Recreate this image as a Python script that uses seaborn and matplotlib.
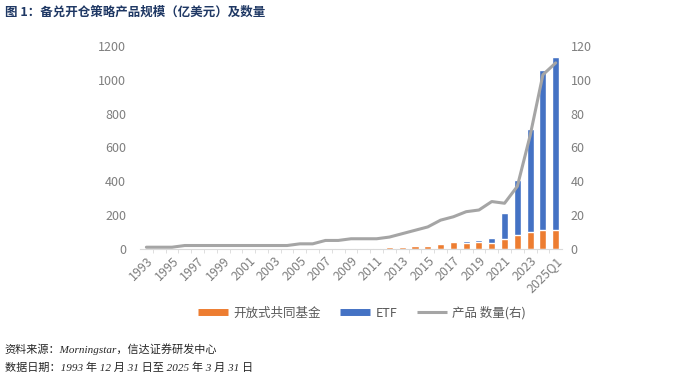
import numpy as np
import pandas as pd
import matplotlib
matplotlib.use('Agg')
import matplotlib.pyplot as plt
import seaborn as sns
from matplotlib.lines import Line2D

# Data.
years = [str(y) for y in range(1993, 2025)] + ['2025Q1']
fund = [0, 0, 0, 0, 0, 0, 0, 0, 0, 0, 0, 0, 0, 0,
        1, 2, 2, 3, 6, 10, 12, 16, 18, 29, 40, 36, 39, 34,
        59, 80, 100, 112, 112]
etf = [0, 0, 0, 0, 0, 0, 0, 0, 0, 0, 0, 0, 0, 0,
       1, 1, 2, 2, 2, 5, 5, 6, 5, 4, 6, 8, 15, 29,
       155, 325, 610, 948, 1020]
count = [1, 1, 1, 2, 2, 2, 2, 2, 2, 2, 2, 2, 3, 3,
         5, 5, 6, 6, 6, 7, 9, 11, 13, 17, 19, 22, 23, 28,
         27, 37, 67, 103, 110]

ORANGE = '#ED7D31'
BLUE = '#4472C4'
GREY = '#A5A5A5'
TICK_GREY = '#7F7F7F'

sns.set_style('white')
plt.rcParams['font.family'] = ['Noto Sans CJK SC', 'DejaVu Sans']

df = pd.DataFrame({'year': years, 'fund': fund, 'etf': etf, 'count': count})
df['total'] = df['fund'] + df['etf']

fig = plt.figure(figsize=(7, 3.8), dpi=100)
ax = fig.add_axes([0.2, 0.345, 0.603, 0.534])

# Stacked bars: draw totals in blue, then the fund part in orange on top.
sns.barplot(data=df, x='year', y='total', color=BLUE, width=0.55,
            saturation=1, ax=ax)
sns.barplot(data=df, x='year', y='fund', color=ORANGE, width=0.55,
            saturation=1, ax=ax)

ax.set_ylim(0, 1200)
ax.set_yticks(range(0, 1201, 200))
ax.set_xlim(-0.5, len(years) - 0.5)
ax.set_xlabel('')
ax.set_ylabel('')

# Right axis: number of products.
ax2 = ax.twinx()
sns.lineplot(x=np.arange(len(years)), y=df['count'], color=GREY, lw=2.2,
             ax=ax2)
ax2.set_ylim(0, 120)
ax2.set_yticks(range(0, 121, 20))
ax2.set_ylabel('')

# X ticks: every other label, rotated like the Excel original.
pos = np.arange(len(years))
ax.set_xticks(pos)
labels = [y if i % 2 == 0 else '' for i, y in enumerate(years)]
ax.set_xticklabels(labels, rotation=45, ha='right', rotation_mode='anchor',
                   fontsize=9, color=TICK_GREY)
ax.tick_params(axis='x', which='major', length=0, pad=4)
ax.set_xticks(pos[:-1] + 0.5, minor=True)
ax.tick_params(axis='x', which='minor', length=3, color='#D9D9D9', direction='out',
               bottom=True)

for a in (ax, ax2):
    for s in a.spines.values():
        s.set_visible(False)
ax.spines['bottom'].set_visible(True)
ax.spines['bottom'].set_color('#D9D9D9')

ax.tick_params(axis='y', length=0, labelsize=9, labelcolor=TICK_GREY, pad=10)
ax2.tick_params(axis='y', length=0, labelsize=9, labelcolor=TICK_GREY, pad=6)

# Legend.
handles = [
    Line2D([0], [0], color=ORANGE, lw=5, solid_capstyle='butt', label='开放式共同基金'),
    Line2D([0], [0], color=BLUE, lw=5, solid_capstyle='butt', label='ETF'),
    Line2D([0], [0], color=GREY, lw=2.2, solid_capstyle='butt', label='产品 数量(右)'),
]
leg = fig.legend(handles=handles, loc='center', bbox_to_anchor=(0.517, 0.176),
                 ncol=3, frameon=False, fontsize=9, handlelength=2.4,
                 columnspacing=1.6, handletextpad=0.4)
for t in leg.get_texts():
    t.set_color('#595959')

# Title and footer.
fig.text(0.007, 0.968, '图 1：备兑开仓策略产品规模（亿美元）及数量',
         fontsize=9, fontweight='bold', color='#1F3864', va='center')
foot_font = ['Liberation Serif', 'Noto Sans CJK SC']
fig.text(0.007, 0.08, '资料来源：Morningstar，信达证券研发中心',
         fontsize=8, style='italic', family=foot_font, va='center')
fig.text(0.007, 0.032, '数据日期：1993 年 12 月 31 日至 2025 年 3 月 31 日',
         fontsize=8, style='italic', family=foot_font, va='center')

fig.savefig('out.png', dpi=100)
